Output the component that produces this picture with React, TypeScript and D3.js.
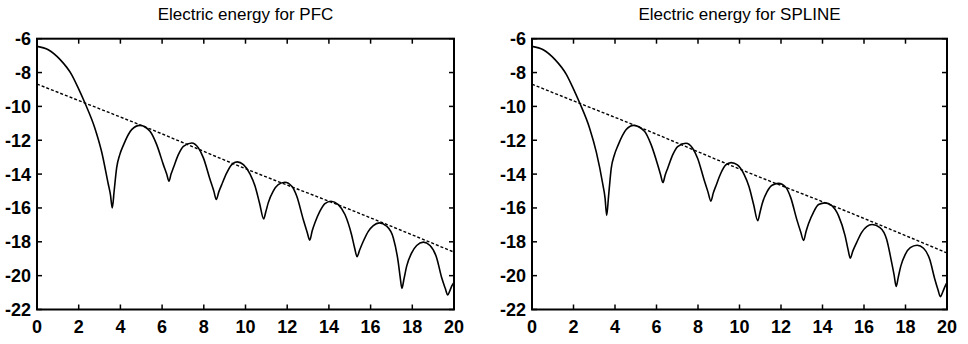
import React from "react";
import * as d3 from "d3";

// ---------- data ----------
const xTicks = [0, 2, 4, 6, 8, 10, 12, 14, 16, 18, 20];
const yTicks = [-22, -20, -18, -16, -14, -12, -10, -8, -6];

const pfcX = [0, 0.54, 1.1, 1.66, 1.98, 2.3, 2.78, 3.1, 3.42, 3.52, 3.61, 3.7, 3.82, 3.97, 4.14, 4.54, 4.94, 5.42, 5.74, 6.06, 6.22, 6.33, 6.43, 6.54, 6.78, 7.02, 7.42, 7.74, 7.98, 8.3, 8.48, 8.6, 8.72, 8.86, 9.1, 9.34, 9.6, 9.9, 10.22, 10.46, 10.68, 10.87, 10.98, 11.09, 11.33, 11.57, 11.89, 12.22, 12.46, 12.77, 12.95, 13.08, 13.2, 13.33, 13.57, 13.81, 14.1, 14.45, 14.77, 15.09, 15.24, 15.35, 15.47, 15.65, 15.89, 16.13, 16.42, 16.77, 17.09, 17.33, 17.42, 17.5, 17.6, 17.73, 17.97, 18.21, 18.53, 18.85, 19.17, 19.41, 19.58, 19.7, 19.8, 19.89, 20];
const pfcY = [-6.45, -6.65, -7.22, -8.12, -8.92, -9.8, -11.3, -12.68, -14.6, -15.2, -16.0, -15.0, -13.63, -12.85, -12.3, -11.37, -11.12, -11.47, -12.26, -13.44, -14.0, -14.42, -14.0, -13.63, -12.85, -12.36, -12.16, -12.45, -13.04, -14.32, -15.0, -15.5, -15.05, -14.62, -13.93, -13.44, -13.28, -13.44, -14.0, -14.72, -15.75, -16.65, -16.2, -15.7, -15.01, -14.62, -14.48, -14.72, -15.31, -16.68, -17.4, -17.9, -17.35, -16.88, -16.19, -15.74, -15.6, -15.8, -16.39, -17.6, -18.4, -18.88, -18.5, -17.97, -17.38, -17.04, -16.88, -17.08, -17.77, -19.24, -20.1, -20.75, -20.2, -19.44, -18.65, -18.22, -18.02, -18.22, -18.95, -20.13, -20.75, -21.14, -20.9, -20.62, -20.4];

const splineX = [0, 0.54, 1.1, 1.66, 1.98, 2.3, 2.78, 3.1, 3.42, 3.52, 3.6, 3.69, 3.82, 3.97, 4.14, 4.54, 4.89, 5.42, 5.74, 6.06, 6.2, 6.31, 6.42, 6.54, 6.78, 7.02, 7.42, 7.74, 7.98, 8.3, 8.48, 8.62, 8.74, 8.88, 9.1, 9.34, 9.6, 9.9, 10.22, 10.46, 10.68, 10.88, 10.99, 11.1, 11.33, 11.57, 11.88, 12.22, 12.46, 12.77, 12.95, 13.09, 13.21, 13.33, 13.57, 13.81, 14.13, 14.45, 14.77, 15.09, 15.23, 15.34, 15.46, 15.65, 15.89, 16.13, 16.39, 16.77, 17.09, 17.33, 17.45, 17.55, 17.65, 17.77, 17.99, 18.23, 18.56, 18.87, 19.17, 19.41, 19.57, 19.68, 19.8, 19.9, 20];
const splineY = [-6.45, -6.65, -7.22, -8.12, -8.92, -9.8, -11.3, -12.7, -14.65, -15.4, -16.44, -15.3, -13.65, -12.87, -12.32, -11.37, -11.12, -11.47, -12.26, -13.46, -14.05, -14.5, -14.05, -13.65, -12.86, -12.37, -12.18, -12.47, -13.06, -14.36, -15.05, -15.6, -15.1, -14.64, -13.95, -13.46, -13.32, -13.46, -14.02, -14.75, -15.8, -16.76, -16.25, -15.72, -15.04, -14.66, -14.55, -14.76, -15.36, -16.72, -17.42, -17.92, -17.38, -16.92, -16.24, -15.8, -15.7, -15.86, -16.45, -17.65, -18.45, -18.97, -18.55, -18.03, -17.44, -17.1, -16.98, -17.16, -17.85, -19.2, -19.95, -20.64, -20.1, -19.45, -18.74, -18.34, -18.2, -18.38, -19.05, -20.2, -20.85, -21.24, -20.95, -20.65, -20.4];

const pfcDashX = [0, 2.3, 5, 10, 15, 20];
const pfcDashY = [-8.68, -9.8, -11.12, -13.68, -16.09, -18.61];
const splineDashX = [0, 2.3, 5, 10, 15, 20];
const splineDashY = [-8.69, -9.82, -11.14, -13.7, -16.12, -18.66];

const titles = ["Electric energy for PFC", "Electric energy for SPLINE"];

// ---------- layout ----------
const W = 968;
const H = 344;
const TOP = 38.7;
const BOTTOM = 309.5;

type PanelProps = {
  left: number;
  right: number;
  title: string;
  xs: number[];
  ys: number[];
  dxs: number[];
  dys: number[];
};

function Panel({ left, right, title, xs, ys, dxs, dys }: PanelProps) {
  const x = d3.scaleLinear().domain([0, 20]).range([left, right]);
  const y = d3.scaleLinear().domain([-22, -6]).range([BOTTOM, TOP]);
  const line = d3
    .line<[number, number]>()
    .x((d) => x(d[0]))
    .y((d) => y(d[1]))
    .curve(d3.curveMonotoneX);
  const solid = xs.map((v, i) => [v, ys[i]] as [number, number]);
  const dashed = dxs.map((v, i) => [v, dys[i]] as [number, number]);
  const tl = 5;
  const font = "'Liberation Sans', Arial, Helvetica, sans-serif";
  return (
    <g>
      <text
        x={(left + right) / 2}
        y={19.5}
        textAnchor="middle"
        fontFamily={font}
        fontSize={17}
        fill="#000"
      >
        {title}
      </text>
      <defs>
        <clipPath id={`clip-${left}`}>
          <rect x={left} y={TOP} width={right - left} height={BOTTOM - TOP} />
        </clipPath>
      </defs>
      <g clipPath={`url(#clip-${left})`}>
        <path
          d={line(dashed) || ""}
          fill="none"
          stroke="#000"
          strokeWidth={1.4}
          strokeDasharray="3,2"
        />
        <path d={line(solid) || ""} fill="none" stroke="#000" strokeWidth={1.6} />
      </g>
      {xTicks.map((t) => (
        <g key={`x${t}`}>
          <line x1={x(t)} x2={x(t)} y1={BOTTOM} y2={BOTTOM - tl} stroke="#000" strokeWidth={1.5} />
          <line x1={x(t)} x2={x(t)} y1={TOP} y2={TOP + tl} stroke="#000" strokeWidth={1.5} />
          <text
            x={x(t)}
            y={332.5}
            textAnchor="middle"
            fontFamily={font}
            fontWeight="bold"
            fontSize={18}
            fill="#000"
          >
            {t}
          </text>
        </g>
      ))}
      {yTicks.map((t) => (
        <g key={`y${t}`}>
          <line x1={left} x2={left + tl} y1={y(t)} y2={y(t)} stroke="#000" strokeWidth={1.5} />
          <line x1={right} x2={right - tl} y1={y(t)} y2={y(t)} stroke="#000" strokeWidth={1.5} />
          <text
            x={left - 6}
            y={y(t)}
            dy="0.36em"
            textAnchor="end"
            fontFamily={font}
            fontWeight="bold"
            fontSize={18}
            fill="#000"
          >
            {t}
          </text>
        </g>
      ))}
      <rect
        x={left}
        y={TOP}
        width={right - left}
        height={BOTTOM - TOP}
        fill="none"
        stroke="#000"
        strokeWidth={2}
      />
    </g>
  );
}

export default function App() {
  return (
    <svg
      width={W}
      height={H}
      viewBox={`0 0 ${W} ${H}`}
      style={{ position: "absolute", left: 0, top: 0, background: "#fff" }}
    >
      <rect x={0} y={0} width={W} height={H} fill="#fff" />
      <Panel left={37} right={454} title={titles[0]} xs={pfcX} ys={pfcY} dxs={pfcDashX} dys={pfcDashY} />
      <Panel left={532} right={947} title={titles[1]} xs={splineX} ys={splineY} dxs={splineDashX} dys={splineDashY} />
    </svg>
  );
}
